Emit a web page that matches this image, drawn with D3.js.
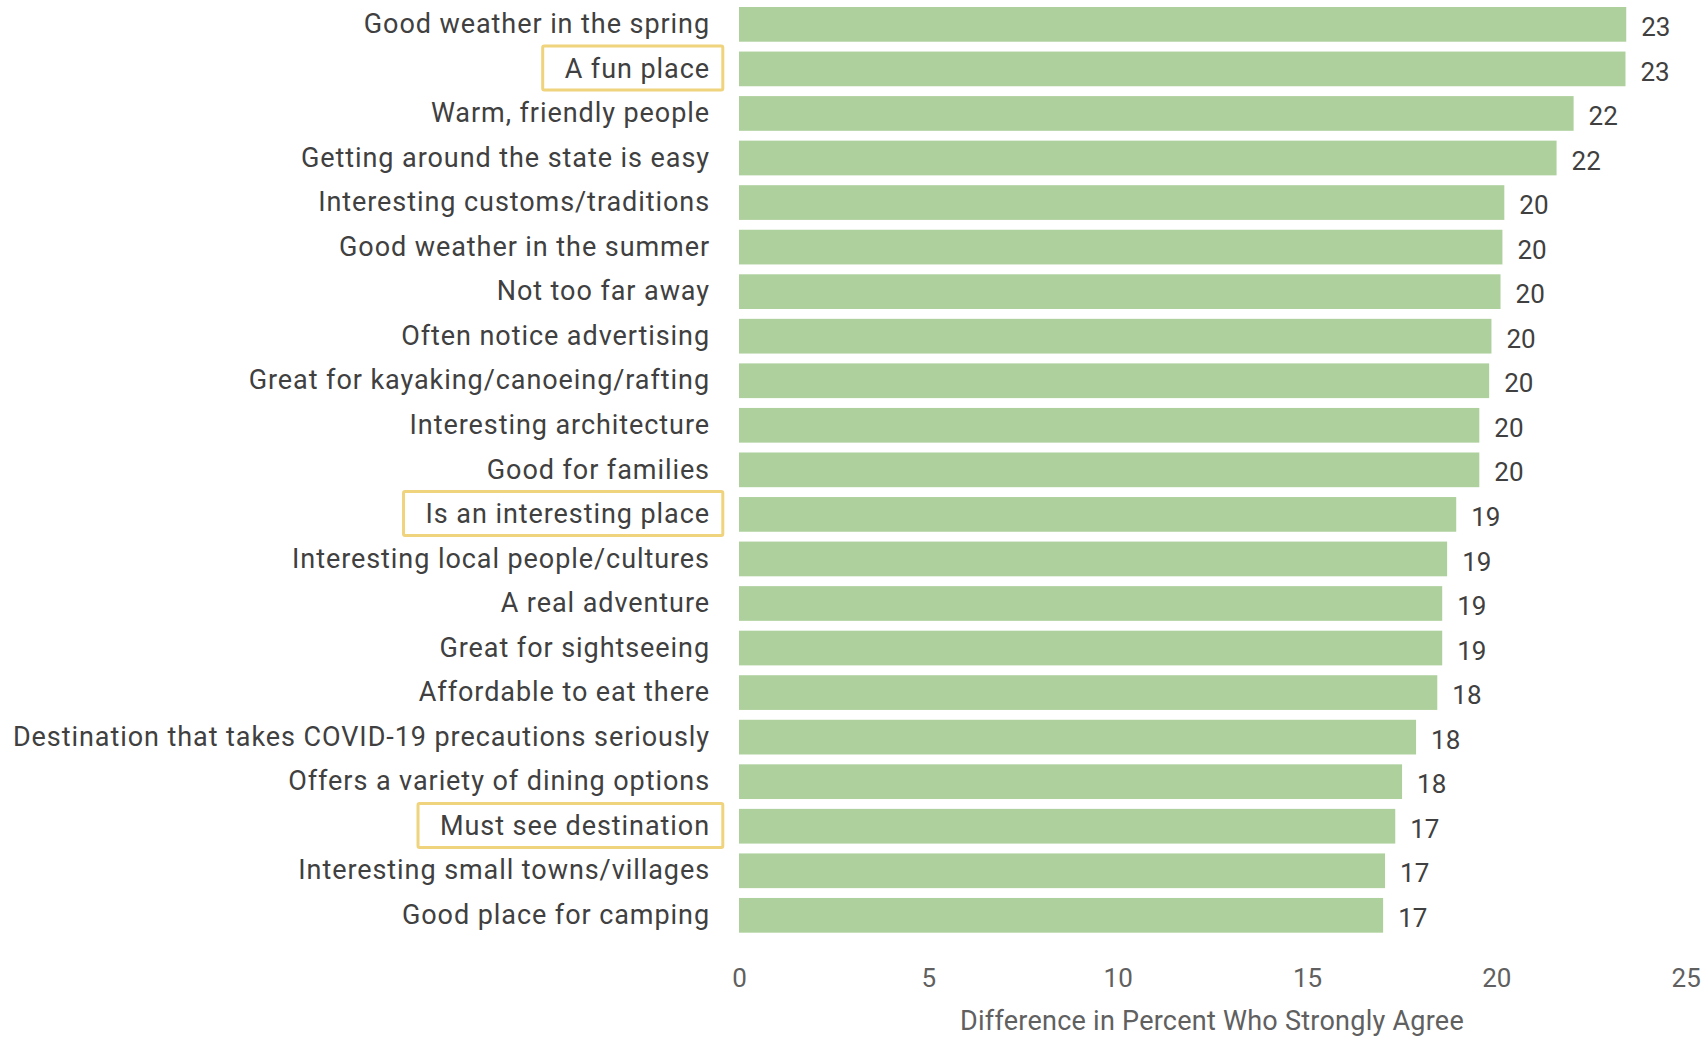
<!DOCTYPE html>
<html>
<head>
<meta charset="utf-8">
<script src="https://cdn.jsdelivr.net/npm/d3@7"></script>
<style>
  html, body { margin: 0; padding: 0; background: #ffffff; }
  svg { display: block; }
  text { font-family: Roboto, "Open Sans", sans-serif; }
</style>
</head>
<body>
<svg id="chart" width="1705" height="1037"></svg>
<script>
// Attributes ranked by the gap in "strongly agree" share
const categories = [
  "Good weather in the spring",
  "A fun place",
  "Warm, friendly people",
  "Getting around the state is easy",
  "Interesting customs/traditions",
  "Good weather in the summer",
  "Not too far away",
  "Often notice advertising",
  "Great for kayaking/canoeing/rafting",
  "Interesting architecture",
  "Good for families",
  "Is an interesting place",
  "Interesting local people/cultures",
  "A real adventure",
  "Great for sightseeing",
  "Affordable to eat there",
  "Destination that takes COVID-19 precautions seriously",
  "Offers a variety of dining options",
  "Must see destination",
  "Interesting small towns/villages",
  "Good place for camping"
];

const values = [
  23.43, 23.41, 22.04, 21.59, 20.21, 20.16, 20.11, 19.87, 19.81, 19.55, 19.55,
  18.94, 18.70, 18.57, 18.57, 18.44, 17.88, 17.51, 17.33, 17.06, 17.01
];

// Attributes called out with an outline
const highlighted = ["A fun place", "Is an interesting place", "Must see destination"];

const tickValues = [0, 5, 10, 15, 20, 25];
const axisTitle = "Difference in Percent Who Strongly Agree";

const rows = categories.map((c, i) => ({ category: c, value: values[i] }));

const svg = d3.select("#chart");

const x = d3.scaleLinear().domain([0, 25]).range([739, 1685.7]);
const y = d3.scaleBand()
  .domain(categories)
  .range([2.08, 937.6])
  .paddingInner(0.221)
  .paddingOuter(0.1105);

const labelRight = 710;

// Bars
svg.append("g")
  .selectAll("rect")
  .data(rows)
  .join("rect")
  .attr("x", x(0))
  .attr("y", d => y(d.category))
  .attr("width", d => x(d.value) - x(0))
  .attr("height", y.bandwidth())
  .attr("fill", "#aed09d");

// Category labels
const labels = svg.append("g")
  .selectAll("text")
  .data(rows)
  .join("text")
  .attr("x", labelRight)
  .attr("y", d => y(d.category) + y.bandwidth() / 2 + 8.7)
  .attr("text-anchor", "end")
  .attr("font-size", 27)
  .attr("letter-spacing", 0.93)
  .attr("fill", "#404040")
  .text(d => d.category);

// Outline boxes around the highlighted labels
const boxH = 44;
labels.filter(d => highlighted.includes(d.category)).each(function(d) {
  const bb = this.getBBox();
  const left = bb.x - 22;
  const right = 722.8;
  const cy = y(d.category) + y.bandwidth() / 2 - 0.8;
  svg.append("rect")
    .attr("x", left)
    .attr("y", cy - boxH / 2)
    .attr("width", right - left)
    .attr("height", boxH)
    .attr("rx", 1.5)
    .attr("fill", "none")
    .attr("stroke", "#f0d37d")
    .attr("stroke-width", 3);
});

// Value labels
const fmt = d3.format(".0f");
svg.append("g")
  .selectAll("text")
  .data(rows)
  .join("text")
  .attr("x", d => x(d.value) + 15)
  .attr("y", d => y(d.category) + y.bandwidth() / 2 + 11.6)
  .attr("font-size", 26)
  .attr("fill", "#404040")
  .text(d => fmt(d.value));

// X axis
const axis = svg.append("g")
  .attr("transform", "translate(0,958)")
  .call(d3.axisBottom(x).tickValues(tickValues).tickSize(0).tickPadding(0));
axis.select(".domain").remove();
axis.selectAll("text")
  .attr("dy", null)
  .attr("y", 29)
  .attr("font-size", 26)
  .attr("font-family", "Roboto, sans-serif")
  .attr("fill", "#606060");

// Axis title
svg.append("text")
  .attr("x", 1212)
  .attr("y", 1030)
  .attr("text-anchor", "middle")
  .attr("font-size", 27)
  .attr("letter-spacing", 0.25)
  .attr("fill", "#606060")
  .text(axisTitle);
</script>
</body>
</html>
